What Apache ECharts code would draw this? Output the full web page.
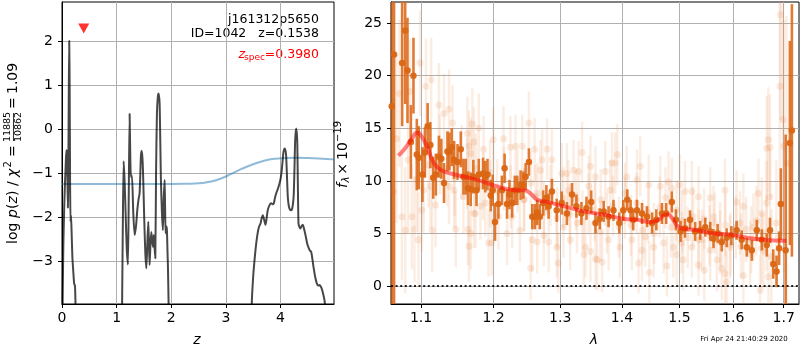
<!DOCTYPE html>
<html><head><meta charset="utf-8">
<script src="https://cdn.jsdelivr.net/npm/echarts@6/dist/echarts.min.js"></script>
<style>html,body{margin:0;padding:0;background:#fff}#c{width:800px;height:350px}</style>
</head><body><div id="c"></div>
<script>
// ---------- data ----------
const zTicks = [0, 1, 2, 3, 4];
const pzTicks = [-3, -2, -1, 0, 1, 2];
const lamTicks = [1.1, 1.2, 1.3, 1.4, 1.5, 1.6, 1.7];
const fluxTicks = [0, 5, 10, 15, 20, 25];

// log p(z) curve [z, value]  (values below the axis run off the panel)
const pzCurve = [
[0.000,-6.0],[0.012,-3.9],[0.025,-2.6],[0.040,-1.8],[0.055,-1.2],[0.068,-0.8],[0.080,-0.47],[0.092,-0.55],
[0.100,-1.2],[0.108,-1.78],[0.116,-0.9],[0.124,0.8],[0.132,2.02],[0.140,1.0],[0.148,-1.2],[0.156,-2.1],
[0.165,-1.95],[0.175,-2.3],[0.190,-2.9],[0.205,-3.2],[0.222,-3.5],[0.238,-3.56],[0.252,-4.3],[0.270,-6.0],
[1.080,-6.0],[1.100,-4.0],[1.115,-2.0],[1.129,-0.72],[1.147,-1.2],[1.165,-1.91],[1.185,-2.7],[1.207,-3.07],
[1.222,-1.5],[1.238,0.36],[1.250,-0.6],[1.262,-1.08],[1.281,-1.05],[1.305,-1.9],[1.330,-2.4],[1.355,-2.2],
[1.379,-1.83],[1.400,-1.6],[1.421,-1.45],[1.445,-0.6],[1.458,-0.49],[1.470,-0.6],[1.482,-0.9],[1.505,-2.0],
[1.525,-2.8],[1.544,-3.16],[1.562,-2.6],[1.580,-2.1],[1.592,-2.6],[1.604,-3.08],[1.620,-2.6],[1.635,-2.33],
[1.650,-2.5],[1.665,-2.67],[1.680,-2.4],[1.695,-2.7],[1.708,-2.93],[1.722,-1.0],[1.738,0.36],[1.755,0.75],
[1.769,0.82],[1.787,0.59],[1.800,-0.3],[1.811,-1.15],[1.830,-1.9],[1.847,-2.29],[1.862,-1.6],[1.879,-1.15],
[1.888,-1.8],[1.897,-2.36],[1.910,-2.2],[1.921,-2.29],[1.932,-2.8],[1.939,-3.08],[1.955,-4.2],[1.975,-6.0],
[3.450,-6.0],[3.475,-3.95],[3.500,-3.35],[3.525,-2.97],[3.555,-2.6],[3.586,-2.33],[3.610,-2.2],[3.635,-2.14],
[3.655,-2.02],[3.677,-1.95],[3.700,-2.05],[3.726,-2.17],[3.748,-2.0],[3.768,-1.83],[3.800,-1.72],[3.830,-1.68],
[3.855,-1.7],[3.878,-1.68],[3.900,-1.55],[3.922,-1.45],[3.950,-1.36],[3.982,-1.23],[4.005,-1.1],[4.024,-0.92],
[4.040,-0.7],[4.055,-0.51],[4.079,-0.43],[4.095,-0.5],[4.105,-0.62],[4.120,-1.1],[4.134,-1.53],[4.150,-1.72],
[4.165,-1.80],[4.187,-1.84],[4.207,-1.83],[4.228,-1.7],[4.244,-1.45],[4.258,-0.8],[4.269,-0.24],[4.287,0.02],
[4.306,-0.24],[4.318,-1.2],[4.330,-2.14],[4.348,-2.22],[4.366,-2.25],[4.385,-2.2],[4.408,-2.17],[4.430,-2.25],
[4.458,-2.4],[4.490,-2.6],[4.518,-2.7],[4.540,-2.76],[4.562,-2.78],[4.585,-2.95],[4.604,-3.12],[4.635,-3.35],
[4.665,-3.5],[4.690,-3.55],[4.714,-3.54],[4.740,-3.58],[4.763,-3.65],[4.785,-3.76],[4.805,-3.88],[4.836,-4.2],
[4.860,-6.0],[4.980,-6.0]
];

// prior curve [z, value]
const priorCurve = [
[0,-1.24],[0.5,-1.24],[1,-1.24],[1.5,-1.24],[2,-1.24],[2.3,-1.235],[2.5,-1.225],[2.7,-1.19],[2.9,-1.12],
[3.1,-1.01],[3.3,-0.89],[3.5,-0.79],[3.7,-0.71],[3.9,-0.665],[4.1,-0.65],[4.3,-0.645],[4.5,-0.65],[4.7,-0.66],[4.98,-0.68]
];

const zSpecMarker = [[0.398, 2.3]];

// binned spectrum [lambda, flux, err]
const binned = [
[1.0619,17.1,20],[1.0649,22.0,24],[1.0753,21.2,6],[1.0792,24.3,7],[1.0822,20.5,5],[1.0866,13.7,3.5],[1.0900,20.0,3.6],
[1.0944,12.5,3.4],[1.0970,12.2,3.0],[1.1018,10.6,2.6],[1.1051,12.7,2.4],[1.1087,15.2,2.2],[1.1124,13.4,2.2],[1.1161,10.3,2.0],
[1.1197,10.6,2.0],[1.1238,12.3,2.0],[1.1271,12.1,1.9],[1.1307,9.8,1.9],[1.1354,12.8,1.9],[1.1381,12.8,1.8],[1.1413,13.2,1.8],
[1.1445,12.0,1.8],[1.1492,11.8,1.7],[1.1537,13.0,1.7],[1.1574,10.4,1.7],[1.1606,10.4,1.7],[1.1638,9.3,1.6],[1.1675,9.2,1.6],
[1.1712,10.4,1.6],[1.1757,9.1,1.5],[1.1789,10.6,1.5],[1.1850,10.7,1.5],[1.1881,10.4,1.5],[1.1913,10.6,1.5],[1.1960,8.6,1.5],
[1.1988,9.1,1.5],[1.2021,6.1,1.8],[1.2070,7.8,1.4],[1.2121,9.1,1.4],[1.2160,11.2,1.4],[1.2196,7.8,1.4],[1.2231,8.7,1.4],
[1.2271,7.9,1.4],[1.2310,9.1,1.4],[1.2346,9.1,1.4],[1.2396,9.6,1.4],[1.2436,9.6,1.3],[1.2471,10.4,1.3],[1.2520,11.8,1.3],
[1.2571,6.6,1.2],[1.2610,6.6,1.2],[1.2646,7.0,1.2],[1.2685,6.6,1.2],[1.2736,7.9,1.2],[1.2786,8.4,1.2],[1.2820,7.6,1.2],
[1.2871,9.0,1.2],[1.2946,7.2,1.1],[1.3023,7.9,1.1],[1.3104,6.9,1.1],[1.3185,8.7,1.1],[1.3255,7.6,1.1],[1.3335,6.9,1.1],
[1.3416,7.4,1.1],[1.3492,8.0,1.1],[1.3562,6.0,1.0],[1.3631,6.4,1.0],[1.3696,7.1,1.0],[1.3777,6.6,1.0],[1.3858,7.2,1.0],
[1.3955,6.0,1.0],[1.4021,7.2,1.0],[1.4090,8.2,1.0],[1.4146,7.2,1.0],[1.4190,6.3,1.0],[1.4254,7.2,1.0],[1.4341,6.9,1.0],
[1.4428,6.6,1.0],[1.4515,6.0,1.0],[1.4590,6.3,1.0],[1.4689,6.9,1.0],[1.4763,6.9,1.0],[1.4863,8.0,1.0],[1.4937,6.3,1.0],
[1.5020,5.2,1.0],[1.5100,5.5,0.9],[1.5193,6.3,0.9],[1.5286,5.2,0.9],[1.5379,5.3,0.9],[1.5472,5.6,0.9],[1.5565,5.2,0.9],
[1.5626,4.5,0.9],[1.5704,5.0,0.9],[1.5782,4.2,0.9],[1.5875,4.6,0.9],[1.5965,4.8,0.9],[1.6065,5.3,0.9],[1.6164,4.4,0.9],
[1.6263,3.7,0.9],[1.6362,3.4,1.0],[1.6460,5.3,1.0],[1.6559,4.4,1.0],[1.6658,3.9,1.1],[1.6723,5.3,1.2],[1.6788,2.1,1.4],
[1.6855,1.4,1.5],[1.6907,3.6,1.6],[1.6941,7.8,3.4],[1.7040,3.4,11],[1.7126,13.6,9.7],[1.7168,14.8,12]
];

// individual exposure spectra [lambda, flux, err]
const exposures = [
[1.0640,9.0,9],[1.0680,14.0,8],[1.0718,18.3,7],[1.0749,6.6,6],[1.0792,5.3,6],[1.0830,12.0,7],[1.0857,18.5,5],[1.0879,6.6,5],
[1.0913,5.4,5],[1.0944,10.1,4.5],[1.0965,4.4,4.5],[1.0987,21.2,5],[1.1010,7.2,4],[1.1032,9.1,4],[1.1065,19.0,4.5],
[1.1100,11.5,4],[1.1124,9.5,4],[1.1134,19.6,4],[1.1147,5.3,4],[1.1193,7.7,4],[1.1238,17.2,4],[1.1250,12.5,3.8],
[1.1307,16.4,3.8],[1.1350,11.2,3.6],[1.1376,16.8,3.8],[1.1376,9.5,3.6],[1.1423,15.5,3.6],[1.1445,9.1,3.6],[1.1450,10.2,3.5],
[1.1468,5.4,3.6],[1.1550,11.8,3.5],[1.1574,8.5,3.5],[1.1629,14.5,3.5],[1.1629,10.7,3.4],[1.1638,5.4,3.4],[1.1651,13.3,3.4],
[1.1651,3.8,3.4],[1.1675,12.6,3.4],[1.1675,5.0,3.4],[1.1698,15.4,3.4],[1.1720,6.9,3.3],[1.1720,13.7,3.3],[1.1744,6.9,3.3],
[1.1750,11.2,3.3],[1.1789,15.0,3.3],[1.1812,7.6,3.2],[1.1850,9.5,3.2],[1.1858,13.0,3.2],[1.1881,7.9,3.2],[1.1927,4.1,3.2],
[1.1950,8.8,3.2],[1.1950,10.8,3.1],[1.1974,4.1,3.1],[1.1996,13.9,3.1],[1.2050,9.0,3.1],[1.2070,6.6,3.1],[1.2145,14.0,3.1],
[1.2150,10.2,3.0],[1.2196,5.0,3.0],[1.2250,8.5,3.0],[1.2246,13.2,3.0],[1.2271,6.6,3.0],[1.2321,13.3,3.0],[1.2350,10.0,3.0],
[1.2385,5.3,3.0],[1.2421,13.3,3.0],[1.2445,8.2,3.0],[1.2450,8.2,3.0],[1.2520,15.5,3.0],[1.2546,1.7,3.0],[1.2550,9.8,3.0],
[1.2571,4.4,3.0],[1.2606,13.0,3.0],[1.2621,8.5,3.0],[1.2646,4.2,3.0],[1.2650,8.8,2.9],[1.2696,11.0,2.9],[1.2721,12.0,2.9],
[1.2745,4.8,2.9],[1.2750,7.0,2.9],[1.2796,13.0,2.9],[1.2820,4.2,2.9],[1.2850,8.6,2.9],[1.2871,12.0,2.9],[1.2946,3.7,2.9],
[1.2950,6.5,2.9],[1.2970,2.2,2.9],[1.3023,10.7,2.9],[1.3049,5.6,2.9],[1.3050,8.4,2.9],[1.3104,10.7,2.9],[1.3129,9.1,2.9],
[1.3150,6.8,2.9],[1.3157,4.4,2.9],[1.3210,11.0,2.9],[1.3250,8.2,2.9],[1.3265,6.0,2.9],[1.3291,10.9,2.9],[1.3346,12.7,2.9],
[1.3350,6.2,2.9],[1.3372,3.0,2.9],[1.3400,3.7,2.9],[1.3450,7.8,2.9],[1.3453,9.5,2.9],[1.3481,11.4,2.9],[1.3481,3.3,2.9],
[1.3550,7.2,2.9],[1.3562,10.4,2.9],[1.3562,2.6,2.9],[1.3589,2.5,2.9],[1.3642,5.2,2.9],[1.3650,8.2,2.9],[1.3670,2.3,2.9],
[1.3723,10.9,2.9],[1.3750,6.0,2.9],[1.3777,4.4,2.9],[1.3804,9.1,2.9],[1.3832,11.7,2.9],[1.3850,7.6,2.9],[1.3885,11.7,2.9],
[1.3922,12.5,2.9],[1.3950,5.6,2.9],[1.3966,3.7,2.9],[1.4050,8.8,2.9],[1.4050,7.4,2.9],[1.4080,10.4,2.9],[1.4150,5.8,2.9],
[1.4167,4.4,2.9],[1.4250,7.9,2.9],[1.4254,10.1,2.9],[1.4282,2.2,2.9],[1.4311,11.4,2.9],[1.4341,3.4,2.9],[1.4350,5.3,2.9],
[1.4398,4.7,2.9],[1.4450,7.0,2.9],[1.4456,9.6,2.9],[1.4468,1.3,2.9],[1.4543,3.7,2.9],[1.4550,5.0,2.9],[1.4650,7.5,2.9],
[1.4659,9.5,2.9],[1.4717,4.1,2.9],[1.4750,8.4,2.9],[1.4776,1.9,2.9],[1.4804,9.9,2.9],[1.4850,5.6,2.9],[1.4863,9.3,2.9],
[1.4890,3.7,2.9],[1.4950,7.2,2.9],[1.4950,3.0,2.9],[1.5007,9.6,2.9],[1.5039,4.1,2.9],[1.5050,6.2,2.9],[1.5069,2.5,2.9],
[1.5100,9.0,2.9],[1.5150,4.6,2.9],[1.5225,9.0,2.9],[1.5225,3.7,2.9],[1.5250,6.6,2.9],[1.5348,8.5,2.9],[1.5348,2.0,2.9],
[1.5350,4.4,2.9],[1.5411,4.4,2.9],[1.5450,6.4,2.9],[1.5454,1.5,2.9],[1.5550,4.8,2.9],[1.5565,8.4,2.9],[1.5565,3.4,2.9],
[1.5626,6.6,2.9],[1.5650,6.0,2.9],[1.5689,2.5,3.0],[1.5750,4.2,3.0],[1.5751,5.0,3.0],[1.5782,1.7,3.0],[1.5843,9.1,3.0],
[1.5843,1.2,3.0],[1.5850,5.8,3.0],[1.5875,0.4,3.0],[1.5937,3.7,3.0],[1.5950,4.0,3.0],[1.6050,5.6,3.0],[1.6065,8.0,3.0],
[1.6130,6.0,3.0],[1.6150,3.8,3.1],[1.6196,7.6,3.1],[1.6196,1.0,3.1],[1.6250,5.4,3.1],[1.6328,3.1,3.1],[1.6350,4.4,3.2],
[1.6393,5.6,3.2],[1.6450,6.2,3.3],[1.6492,8.8,3.3],[1.6526,-0.4,3.4],[1.6550,3.6,3.4],[1.6559,6.9,3.4],[1.6591,3.3,3.5],
[1.6650,5.0,3.6],[1.6658,13.1,5],[1.6658,7.9,4],[1.6690,0.9,4],[1.6690,13.9,5],[1.6723,8.5,4.5],[1.6723,13.2,5],
[1.6750,2.8,4.5],[1.6850,6.0,6],[1.6921,19.0,9],[1.6935,25.8,10],[1.6986,15.8,11],[1.7000,13.3,12],[1.7057,11.7,14]
];

// model spectrum [lambda, flux]
const model = [
[1.0705,12.4],[1.0792,13.1],[1.0870,13.9],[1.0952,14.6],[1.1000,14.3],[1.1078,13.3],[1.1169,11.7],[1.1262,11.05],
[1.1399,10.7],[1.1582,10.4],[1.1767,10.1],[1.1950,9.7],[1.2145,9.3],[1.2346,9.1],[1.2445,9.1],[1.2545,8.8],[1.2646,8.2],
[1.2796,8.0],[1.3049,7.6],[1.3372,7.1],[1.3696,6.8],[1.4021,6.4],[1.4254,6.3],[1.4485,6.1],[1.4630,6.3],[1.4717,6.7],
[1.4793,6.8],[1.4863,6.5],[1.4950,5.8],[1.5039,5.5],[1.5318,5.3],[1.5626,5.0],[1.5937,4.9],[1.6263,4.6],[1.6593,4.4],[1.7055,4.3]
];

// ---------- chart ----------
const FONT = 'DejaVu Sans';
const minus = v => (v < 0 ? '\u2212' + Math.abs(v) : String(v));

function errBar(color, width) {
  return function (params, api) {
    const x = api.value(0), y = api.value(1), e = api.value(2);
    const a = api.coord([x, y - e]), b = api.coord([x, y + e]);
    return { type: 'line', shape: { x1: a[0], y1: a[1], x2: b[0], y2: b[1] },
             style: { stroke: color, lineWidth: width } };
  };
}

function axisCommon(ticks, fmt, margin) {
  return {
    axisLine: { show: true, onZero: false, lineStyle: { color: '#000', width: 1 } },
    axisTick: { show: true, inside: false, length: 4, customValues: ticks, lineStyle: { color: '#000', width: 1 } },
    axisLabel: { customValues: ticks, formatter: fmt, color: '#000', fontSize: 14, fontFamily: FONT, margin: margin, showMinLabel: true, showMaxLabel: true },
    splitLine: { show: true, lineStyle: { color: '#b0b0b0', width: 1 } },
    minorTick: { show: false }
  };
}

const ORANGE = '#da6614';

const option = {
  animation: false,
  backgroundColor: '#fff',
  grid: [
    { left: 62, top: 2, width: 272, height: 302, show: true, borderColor: '#000', borderWidth: 1, backgroundColor: 'transparent' },
    { left: 391, top: 2, width: 408, height: 302, show: true, borderColor: '#000', borderWidth: 1, backgroundColor: 'transparent' }
  ],
  xAxis: [
    Object.assign({ type: 'value', gridIndex: 0, min: 0, max: 4.98 }, axisCommon(zTicks, v => String(v), 7)),
    Object.assign({ type: 'log', logBase: 10, gridIndex: 1, min: 1.061, max: 1.7315 }, axisCommon(lamTicks, v => Number(v).toFixed(1), 7))
  ],
  yAxis: [
    Object.assign({ type: 'value', gridIndex: 0, min: -3.97, max: 2.9 }, axisCommon(pzTicks, minus, 9)),
    Object.assign({ type: 'value', gridIndex: 1, min: -1.7, max: 27 }, axisCommon(fluxTicks, minus, 9))
  ],
  series: [
    { type: 'line', xAxisIndex: 0, yAxisIndex: 0, data: priorCurve, smooth: true, showSymbol: false, clip: true,
      lineStyle: { color: 'rgba(31,119,180,0.5)', width: 2 }, z: 2 },
    { type: 'line', xAxisIndex: 0, yAxisIndex: 0, data: pzCurve, smooth: 0.2, showSymbol: false, clip: true,
      lineStyle: { color: 'rgba(0,0,0,0.72)', width: 2 }, z: 3 },
    { type: 'scatter', xAxisIndex: 0, yAxisIndex: 0, data: zSpecMarker, symbol: 'triangle', symbolRotate: 180,
      symbolSize: [11, 10], itemStyle: { color: '#ff0000' }, z: 4 },

    { type: 'custom', xAxisIndex: 1, yAxisIndex: 1, data: exposures, clip: true, encode: { x: 0, y: 1 },
      renderItem: errBar('rgba(235,140,80,0.16)', 2.5), z: 2 },
    { type: 'scatter', xAxisIndex: 1, yAxisIndex: 1, data: exposures, symbolSize: 7, clip: true,
      itemStyle: { color: 'rgba(228,125,55,0.2)' }, z: 2 },
    { type: 'custom', xAxisIndex: 1, yAxisIndex: 1, data: binned, clip: true, encode: { x: 0, y: 1 },
      renderItem: errBar('rgba(218,100,18,0.85)', 2.6), z: 3 },
    { type: 'scatter', xAxisIndex: 1, yAxisIndex: 1, data: binned, symbolSize: 6.5, clip: true,
      itemStyle: { color: ORANGE, opacity: 0.95 }, z: 3 },
    { type: 'line', xAxisIndex: 1, yAxisIndex: 1, data: model, smooth: true, showSymbol: false, clip: true,
      lineStyle: { color: 'rgba(255,0,0,0.5)', width: 4 }, z: 4,
      markLine: { silent: true, symbol: 'none', label: { show: false },
        lineStyle: { color: '#000', type: [2, 2.6], width: 2, opacity: 0.85 },
        data: [{ yAxis: 0 }] } }
  ],
  graphic: [
    { type: 'text', x: 319, y: 20, style: { text: 'j161312p5650', fill: '#000', font: '12.5px "DejaVu Sans"', align: 'right', verticalAlign: 'middle' } },
    { type: 'text', x: 319, y: 34, style: { text: 'ID=1042   z=0.1538', fill: '#000', font: '12.5px "DejaVu Sans"', align: 'right', verticalAlign: 'middle' } },
    { type: 'text', x: 319, y: 55, style: { text: '=0.3980', fill: '#ff0000', font: '12.5px "DejaVu Sans"', align: 'right', verticalAlign: 'middle' } },
    { type: 'text', x: 265, y: 58, style: { text: 'spec', fill: '#ff0000', font: '9px "DejaVu Sans"', align: 'right', verticalAlign: 'middle' } },
    { type: 'text', x: 245, y: 55, style: { text: 'z', fill: '#ff0000', font: 'italic 12.5px "DejaVu Sans"', align: 'right', verticalAlign: 'middle' } },

    { type: 'text', x: 197, y: 340, style: { text: 'z', fill: '#000', font: 'italic 14px "DejaVu Sans"', align: 'center', verticalAlign: 'middle' } },
    { type: 'text', x: 594, y: 340, style: { text: 'λ', fill: '#000', font: 'italic 14px "DejaVu Sans"', align: 'center', verticalAlign: 'middle' } },
    { type: 'text', x: 744, y: 339, style: { text: 'Fri Apr 24 21:40:29 2020', fill: '#000', font: '7px "DejaVu Sans"', align: 'center', verticalAlign: 'middle' } },

    { type: 'group', x: 13, y: 154, rotation: Math.PI / 2, children: [
      { type: 'text', x: -90, y: 0, style: { text: 'log', fill: '#000', font: '14px "DejaVu Sans"', align: 'left', verticalAlign: 'middle' } },
      { type: 'text', x: -64, y: 0, style: { text: 'p', fill: '#000', font: 'italic 14px "DejaVu Sans"', align: 'left', verticalAlign: 'middle' } },
      { type: 'text', x: -55, y: 0, style: { text: '(', fill: '#000', font: '14px "DejaVu Sans"', align: 'left', verticalAlign: 'middle' } },
      { type: 'text', x: -49.5, y: 0, style: { text: 'z', fill: '#000', font: 'italic 14px "DejaVu Sans"', align: 'left', verticalAlign: 'middle' } },
      { type: 'text', x: -42, y: 0, style: { text: ')', fill: '#000', font: '14px "DejaVu Sans"', align: 'left', verticalAlign: 'middle' } },
      { type: 'text', x: -32, y: 0, style: { text: '/', fill: '#000', font: '14px "DejaVu Sans"', align: 'left', verticalAlign: 'middle' } },
      { type: 'text', x: -23, y: 0, style: { text: 'χ', fill: '#000', font: 'italic 14px "DejaVu Sans"', align: 'left', verticalAlign: 'middle' } },
      { type: 'text', x: -13.5, y: -4.5, style: { text: '2', fill: '#000', font: '10px "DejaVu Sans"', align: 'left', verticalAlign: 'middle' } },
      { type: 'text', x: -3, y: 0, style: { text: '=', fill: '#000', font: '14px "DejaVu Sans"', align: 'left', verticalAlign: 'middle' } },
      { type: 'text', x: 27, y: -5, style: { text: '11885', fill: '#000', font: '9.5px "DejaVu Sans"', align: 'center', verticalAlign: 'middle' } },
      { type: 'line', shape: { x1: 13, y1: 0.5, x2: 41, y2: 0.5 }, style: { stroke: '#000', lineWidth: 0.8 } },
      { type: 'text', x: 27, y: 6, style: { text: '10862', fill: '#000', font: '9.5px "DejaVu Sans"', align: 'center', verticalAlign: 'middle' } },
      { type: 'text', x: 45, y: 0, style: { text: '=', fill: '#000', font: '14px "DejaVu Sans"', align: 'left', verticalAlign: 'middle' } },
      { type: 'text', x: 60, y: 0, style: { text: '1.09', fill: '#000', font: '14px "DejaVu Sans"', align: 'left', verticalAlign: 'middle' } }
    ] },

    { type: 'group', x: 343, y: 154, rotation: Math.PI / 2, children: [
      { type: 'text', x: -34, y: 0, style: { text: 'f', fill: '#000', font: 'italic 14px "DejaVu Sans"', align: 'left', verticalAlign: 'middle' } },
      { type: 'text', x: -28.5, y: 3.5, style: { text: 'λ', fill: '#000', font: 'italic 10px "DejaVu Sans"', align: 'left', verticalAlign: 'middle' } },
      { type: 'text', x: -15, y: 0, style: { text: '×', fill: '#000', font: '14px "DejaVu Sans"', align: 'center', verticalAlign: 'middle' } },
      { type: 'text', x: -6, y: 0, style: { text: '10', fill: '#000', font: '14px "DejaVu Sans"', align: 'left', verticalAlign: 'middle' } },
      { type: 'text', x: 12, y: -5, style: { text: '\u221219', fill: '#000', font: '10px "DejaVu Sans"', align: 'left', verticalAlign: 'middle' } }
    ] }
  ]
};

const chart = echarts.init(document.getElementById('c'), null, { renderer: 'canvas' });
chart.setOption(option);
</script>
</body></html>
